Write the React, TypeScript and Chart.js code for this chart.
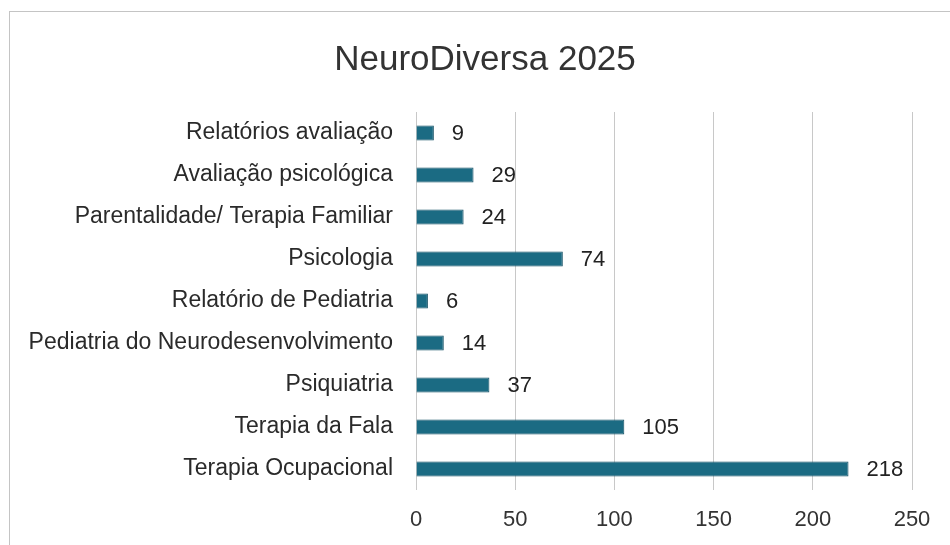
import React, { useEffect, useRef } from "react";
import { Chart, registerables } from "chart.js";

Chart.register(...registerables);

const TITLE = "NeuroDiversa 2025";
const categories = [
  "Relatórios avaliação",
  "Avaliação psicológica",
  "Parentalidade/ Terapia Familiar",
  "Psicologia",
  "Relatório de Pediatria",
  "Pediatria do Neurodesenvolvimento",
  "Psiquiatria",
  "Terapia da Fala",
  "Terapia Ocupacional",
];
const values = [9, 29, 24, 74, 6, 14, 37, 105, 218];
const xMin = 0;
const xMax = 250;
const xStep = 50;

const FONT = "'Liberation Sans', Arial, sans-serif";

const valueLabels = {
  id: "valueLabels",
  afterDatasetsDraw(chart: any) {
    const ctx = chart.ctx;
    const meta = chart.getDatasetMeta(0);
    ctx.save();
    ctx.fillStyle = "#222222";
    ctx.font = `22px ${FONT}`;
    ctx.textAlign = "left";
    ctx.textBaseline = "middle";
    meta.data.forEach((bar: any, i: number) => {
      ctx.fillText(String(values[i]), bar.x + 18, bar.y + 1);
    });
    ctx.restore();
  },
};

const frame = {
  id: "frame",
  beforeDraw(chart: any) {
    const ctx = chart.ctx;
    ctx.save();
    ctx.fillStyle = "#ffffff";
    ctx.fillRect(0, 0, chart.width, chart.height);
    ctx.strokeStyle = "#c4c4c4";
    ctx.lineWidth = 1;
    ctx.strokeRect(9.5, 11.5, chart.width + 20, chart.height + 20);
    ctx.fillStyle = "#333333";
    ctx.font = `35px ${FONT}`;
    ctx.textAlign = "center";
    ctx.textBaseline = "middle";
    ctx.fillText(TITLE, 485, 60);
    ctx.restore();
  },
};

export default function App() {
  const ref = useRef<HTMLCanvasElement | null>(null);
  useEffect(() => {
    if (!ref.current) return;
    const chart = new Chart(ref.current, {
      type: "bar",
      data: {
        labels: categories,
        datasets: [
          {
            data: values,
            backgroundColor: "#1b6b83",
            borderColor: "#0f4c61",
            borderWidth: 1,
            barPercentage: 0.36,
            categoryPercentage: 1,
          },
        ],
      },
      options: {
        indexAxis: "y",
        responsive: false,
        animation: false,
        layout: { padding: { left: 0, right: 38, top: 112, bottom: 0 } },
        plugins: {
          legend: { display: false },
          tooltip: { enabled: false },
          title: { display: false },
        },
        scales: {
          x: {
            min: xMin,
            max: xMax,
            ticks: {
              stepSize: xStep,
              color: "#333333",
              font: { family: FONT, size: 22 },
              padding: 17,
            },
            grid: { color: "#c8c8c8", drawTicks: false, lineWidth: 1 },
            border: { display: false },
            afterFit: (s: any) => {
              s.height = 55;
            },
          },
          y: {
            ticks: {
              color: "#2a2a2a",
              font: { family: FONT, size: 23 },
              padding: 23,
              autoSkip: false,
            },
            grid: { display: false, drawTicks: false },
            border: { display: false },
            afterFit: (s: any) => {
              s.width = 416;
            },
          },
        },
      },
      plugins: [frame, valueLabels],
    });
    return () => chart.destroy();
  }, []);
  return (
    <div style={{ position: "fixed", left: 0, top: 0, width: 950, height: 545, overflow: "hidden", background: "#fff" }}>
      <canvas ref={ref} width={950} height={545} style={{ display: "block" }} />
    </div>
  );
}
